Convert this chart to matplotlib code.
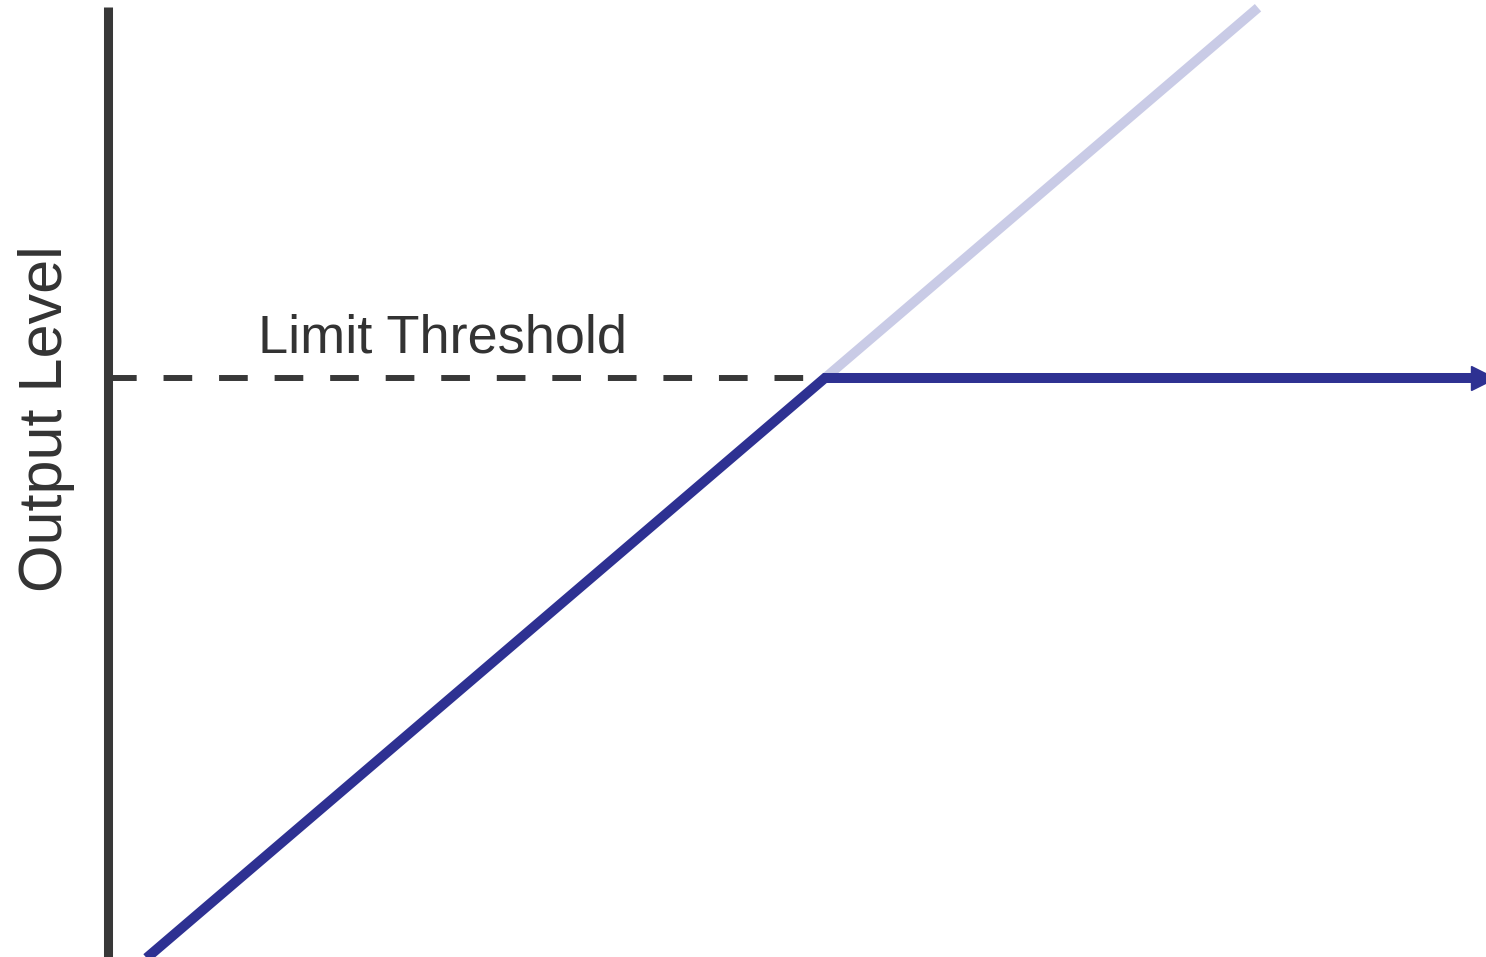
import matplotlib
matplotlib.use("Agg")
import matplotlib.pyplot as plt
import numpy as np

plt.rcParams["font.family"] = ["Liberation Sans", "DejaVu Sans"]

# limiter transfer curve, in units where the threshold is 1.0
threshold = 1.0
input_level = [0.0, 1.0, 1.922]
output_level = [min(v, threshold) for v in input_level]
# unlimited (linear) continuation above threshold
bypass_in = [1.0, 1.604]
bypass_out = [1.0, 1.604]
axis_top = 1.605

BLUE = "#2e3192"
LIGHT = "#c9cbe6"
GREY = "#383838"

fig = plt.figure(figsize=(14.86, 9.57), dpi=100)
ax = fig.add_axes([0, 0, 1, 1])
ax.set_xlim(-0.1506, 1.922)
ax.set_ylim(0.0555, 1.6166)

for s in ("top", "right", "bottom"):
    ax.spines[s].set_visible(False)
ax.spines["left"].set_position(("data", 0))
ax.spines["left"].set_bounds(-0.1, axis_top)
ax.spines["left"].set_linewidth(6.5)
ax.spines["left"].set_color(GREY)
ax.spines["left"].set_capstyle("butt")
ax.set_xticks([]); ax.set_yticks([])

# threshold guide
ax.plot([0, threshold], [threshold, threshold], color=GREY, lw=4.3,
        linestyle=(0, (4.8, 4.5)), zorder=2)

ax.plot(bypass_in, bypass_out, color=LIGHT, lw=7, solid_capstyle="butt", zorder=2)
ax.plot(input_level, output_level, color=BLUE, lw=7.2, solid_joinstyle="miter",
        solid_capstyle="butt", zorder=3)
ax.plot([input_level[-1] - 0.004], [output_level[-1]], marker=">", color=BLUE,
        markersize=17, clip_on=False, zorder=4)

ax.text(0.209, 1.041, "Limit Threshold", fontsize=39, color="#333333",
        ha="left", va="baseline")
ax.text(-0.064, 0.933, "Output Level", fontsize=44, color="#333333",
        rotation=90, rotation_mode="anchor", ha="center", va="baseline")

fig.savefig("out.png", dpi=100)
